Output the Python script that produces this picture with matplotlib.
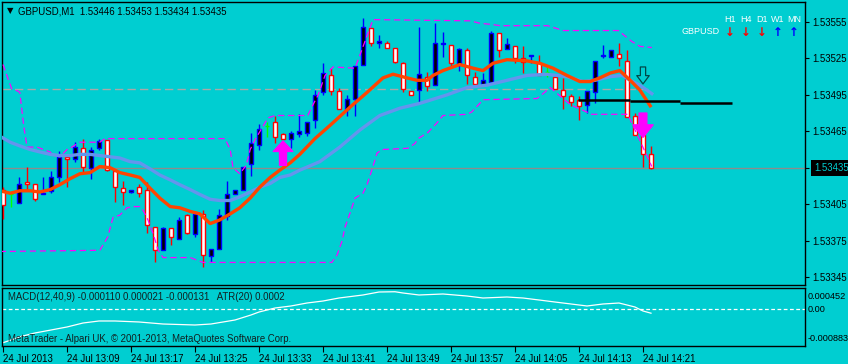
import matplotlib
matplotlib.use('Agg')
import matplotlib.pyplot as plt
import numpy as np
from matplotlib.transforms import blended_transform_factory

plt.rcParams['font.family'] = ['Liberation Sans', 'DejaVu Sans']

BG = '#00CED1'

# GBPUSD M1 candles, 24 Jul 2013 13:01 .. 14:22 (bar index 0..81)
opens = [1.53417, 1.53413, 1.53406, 1.53423, 1.53422, 1.53413, 1.53416, 1.53427, 1.53444, 1.53442,
         1.53451, 1.53435, 1.53451, 1.53458, 1.53432, 1.53418, 1.53415, 1.53419, 1.53417, 1.53386,
         1.53367, 1.53385, 1.53376, 1.53396, 1.53380, 1.53397, 1.53362, 1.53368, 1.53395, 1.53413,
         1.53417, 1.53438, 1.53454, 1.53469, 1.53473, 1.53463, 1.53459, 1.53463, 1.53464, 1.53474,
         1.53497, 1.53511, 1.53498, 1.53483, 1.53492, 1.53520, 1.53550, 1.53538, 1.53538, 1.53534,
         1.53521, 1.53498, 1.53499, 1.53510, 1.53503, 1.53537, 1.53536, 1.53520, 1.53532, 1.53510,
         1.53504, 1.53506, 1.53546, 1.53533, 1.53535, 1.53525, 1.53527, 1.53521, 1.53514, 1.53510,
         1.53499, 1.53494, 1.53491, 1.53487, 1.53497, 1.53527, 1.53526, 1.53529, 1.53523, 1.53478,
         1.53462, 1.53446]
highs = [1.53419, 1.53414, 1.53427, 1.53436, 1.53422, 1.53427, 1.53432, 1.53449, 1.53444, 1.53456,
         1.53459, 1.53452, 1.53459, 1.53458, 1.53432, 1.53424, 1.53417, 1.53422, 1.53423, 1.53386,
         1.53386, 1.53385, 1.53394, 1.53397, 1.53397, 1.53400, 1.53368, 1.53401, 1.53424, 1.53417,
         1.53436, 1.53464, 1.53471, 1.53473, 1.53478, 1.53464, 1.53465, 1.53479, 1.53473, 1.53499,
         1.53521, 1.53517, 1.53501, 1.53495, 1.53519, 1.53558, 1.53550, 1.53544, 1.53539, 1.53534,
         1.53522, 1.53498, 1.53551, 1.53514, 1.53554, 1.53547, 1.53536, 1.53534, 1.53534, 1.53514,
         1.53513, 1.53548, 1.53546, 1.53542, 1.53535, 1.53535, 1.53528, 1.53528, 1.53518, 1.53512,
         1.53509, 1.53496, 1.53494, 1.53498, 1.53523, 1.53536, 1.53532, 1.53538, 1.53532, 1.53480,
         1.53462, 1.53453]
lows = [1.53393, 1.53403, 1.53406, 1.53417, 1.53408, 1.53413, 1.53414, 1.53423, 1.53419, 1.53440,
        1.53431, 1.53426, 1.53450, 1.53432, 1.53407, 1.53404, 1.53414, 1.53411, 1.53381, 1.53357,
        1.53367, 1.53371, 1.53376, 1.53380, 1.53378, 1.53353, 1.53357, 1.53368, 1.53392, 1.53413,
        1.53417, 1.53428, 1.53450, 1.53460, 1.53455, 1.53459, 1.53451, 1.53460, 1.53461, 1.53468,
        1.53495, 1.53495, 1.53483, 1.53478, 1.53478, 1.53520, 1.53535, 1.53534, 1.53534, 1.53521,
        1.53497, 1.53495, 1.53488, 1.53498, 1.53503, 1.53526, 1.53519, 1.53515, 1.53504, 1.53504,
        1.53504, 1.53506, 1.53526, 1.53533, 1.53521, 1.53513, 1.53521, 1.53511, 1.53510, 1.53500,
        1.53483, 1.53486, 1.53474, 1.53480, 1.53488, 1.53525, 1.53526, 1.53519, 1.53477, 1.53462,
        1.53436, 1.53434]
closes = [1.53404, 1.53413, 1.53422, 1.53422, 1.53409, 1.53414, 1.53427, 1.53444, 1.53442, 1.53452,
          1.53436, 1.53450, 1.53457, 1.53433, 1.53419, 1.53415, 1.53417, 1.53414, 1.53388, 1.53367,
          1.53385, 1.53378, 1.53392, 1.53381, 1.53397, 1.53363, 1.53368, 1.53396, 1.53413, 1.53417,
          1.53436, 1.53455, 1.53467, 1.53469, 1.53460, 1.53459, 1.53464, 1.53465, 1.53473, 1.53495,
          1.53513, 1.53498, 1.53483, 1.53492, 1.53519, 1.53551, 1.53538, 1.53539, 1.53534, 1.53522,
          1.53500, 1.53495, 1.53512, 1.53502, 1.53538, 1.53538, 1.53521, 1.53533, 1.53511, 1.53504,
          1.53507, 1.53546, 1.53532, 1.53537, 1.53525, 1.53522, 1.53528, 1.53511, 1.53514, 1.53500,
          1.53494, 1.53489, 1.53486, 1.53498, 1.53523, 1.53528, 1.53532, 1.53525, 1.53477, 1.53462,
          1.53446, 1.53435]

# fast MA (orange): bar position, price
fast_x = [-0.4, 0.9, 2.1, 3.4, 4.6, 5.9, 7.1, 8.4, 9.6, 10.9, 12.1, 13.4, 14.6, 15.9, 17.1, 18.4,
          19.6, 20.9, 22.1, 23.4, 24.6, 25.9, 27.1, 28.4, 29.6, 30.9, 32.1, 33.4, 34.6, 35.9, 37.1,
          39.0, 40.9, 43.4, 45.5, 47.5, 48.75, 50.5, 51.75, 53.0, 53.75, 55.0, 57.1, 58.75, 60.0,
          61.25, 63.0, 65.5, 67.1, 68.75, 70.5, 72.1, 73.4, 74.6, 75.9, 77.1, 78.4, 79.6, 80.9]
fast_y = [1.53416, 1.53414, 1.53416, 1.53416, 1.53415, 1.53417, 1.53421, 1.53426, 1.53430, 1.53431,
          1.53436, 1.53435, 1.53431, 1.53429, 1.53427, 1.53418, 1.53410, 1.53403, 1.53402, 1.53399,
          1.53397, 1.53389, 1.53392, 1.53397, 1.53402, 1.53410, 1.53419, 1.53427, 1.53433, 1.53439,
          1.53446, 1.53459, 1.53470, 1.53485, 1.53497, 1.53509, 1.53512, 1.53509, 1.53507, 1.53507,
          1.53511, 1.53515, 1.53520, 1.53517, 1.53515, 1.53521, 1.53524, 1.53523, 1.53521, 1.53517,
          1.53511, 1.53506, 1.53506, 1.53509, 1.53513, 1.53515, 1.53507, 1.53499, 1.53486]

# slow MA (light blue)
slow_x = [-0.4, 0.9, 2.1, 3.4, 4.6, 5.9, 7.1, 8.4, 9.6, 10.9, 12.1, 13.4, 14.6, 15.9, 17.1, 18.4,
          19.6, 20.9, 22.1, 23.4, 24.6, 25.9, 27.1, 28.4, 29.6, 30.9, 32.1, 33.4, 34.6, 35.9, 37.1,
          39.6, 42.1, 44.6, 47.1, 49.6, 52.1, 55.5, 58.0, 60.5, 63.0, 65.5, 68.0, 70.5, 72.5, 74.0,
          75.9, 77.4, 78.4, 79.6, 81.1]
slow_y = [1.53461, 1.53456, 1.53453, 1.53450, 1.53448, 1.53446, 1.53445, 1.53445, 1.53446, 1.53446,
          1.53445, 1.53444, 1.53443, 1.53440, 1.53439, 1.53434, 1.53429, 1.53425, 1.53421, 1.53417,
          1.53413, 1.53409, 1.53408, 1.53408, 1.53411, 1.53415, 1.53419, 1.53422, 1.53427, 1.53429,
          1.53433, 1.53440, 1.53452, 1.53466, 1.53478, 1.53484, 1.53488, 1.53495, 1.53501, 1.53503,
          1.53507, 1.53511, 1.53512, 1.53510, 1.53506, 1.53507, 1.53510, 1.53511, 1.53507, 1.53503,
          1.53496]

# channel lines (magenta, dashed)
upper_x = [0.0, 0.75, 1.1, 1.9, 2.1, 2.6, 3.0, 4.25, 5.9, 6.25, 7.1, 8.0, 8.6, 9.6, 12.1, 12.75,
           27.75, 28.4, 28.75, 29.6, 30.4, 30.9, 31.5, 32.4, 33.1, 34.0, 38.1, 38.6, 39.4, 40.25,
           41.25, 44.0, 44.4, 46.25, 58.4, 59.6, 61.1, 62.1, 68.1, 70.0, 76.9, 77.1, 78.6, 79.6, 81.1]
upper_y = [1.53520, 1.53506, 1.53500, 1.53498, 1.53497, 1.53469, 1.53452, 1.53452, 1.53448, 1.53445,
           1.53444, 1.53450, 1.53452, 1.53456, 1.53456, 1.53459, 1.53459, 1.53450, 1.53435, 1.53430,
           1.53437, 1.53450, 1.53458, 1.53468, 1.53476, 1.53478, 1.53478, 1.53485, 1.53495, 1.53511,
           1.53518, 1.53517, 1.53524, 1.53557, 1.53556, 1.53554, 1.53553, 1.53552, 1.53552, 1.53548,
           1.53548, 1.53547, 1.53539, 1.53535, 1.53534]
lower_x = [-0.4, 12.1, 13.1, 13.75, 14.6, 15.5, 16.25, 17.1, 17.5, 18.0, 18.75, 19.4, 20.0, 23.4,
           25.0, 41.1, 41.75, 42.4, 42.75, 43.4, 44.0, 45.0, 45.5, 46.1, 46.75, 47.4, 50.6, 51.5,
           51.9, 53.1, 54.25, 55.0, 58.0, 58.6, 59.6, 60.0, 66.75, 67.5, 68.4, 70.9, 73.6, 78.1, 81.1]
lower_y = [1.53366, 1.53367, 1.53378, 1.53394, 1.53396, 1.53402, 1.53403, 1.53403, 1.53400, 1.53394,
           1.53381, 1.53367, 1.53361, 1.53361, 1.53357, 1.53357, 1.53363, 1.53375, 1.53386, 1.53398,
           1.53410, 1.53414, 1.53421, 1.53433, 1.53447, 1.53450, 1.53451, 1.53455, 1.53459, 1.53464,
           1.53472, 1.53478, 1.53479, 1.53481, 1.53488, 1.53491, 1.53492, 1.53496, 1.53501, 1.53487,
           1.53479, 1.53479, 1.53436]

# black level line (drawn object)
level_x = [71.9, 78.4, 84.6, 91.1]
level_y = [1.53491, 1.53490, 1.53488]

round_level = 1.53500
bid = 1.53435

# MACD main line
macd_x = [0, 1, 2, 4, 6, 8, 10, 12, 14, 17, 20, 24, 26, 29, 31, 32, 34, 36, 38, 40, 42, 45, 47,
          49, 50, 52, 55, 58, 60, 63, 65, 67, 69, 71, 73, 75, 77, 78, 79, 80, 81]
macd_y = [-0.000883, -0.000812, -0.000733, -0.000628, -0.000550, -0.000471, -0.000367, -0.000314,
          -0.000314, -0.000340, -0.000393, -0.000419, -0.000393, -0.000288, -0.000157, -0.000079,
          0.000026, 0.000079, 0.000157, 0.000209, 0.000288, 0.000367, 0.000445, 0.000452, 0.000419,
          0.000367, 0.000393, 0.000340, 0.000288, 0.000314, 0.000288, 0.000236, 0.000183, 0.000131,
          0.000079, 0.000131, 0.000157, 0.000105, 0.000052, -0.000052, -0.000110]

price_ticks = [1.53345, 1.53375, 1.53405, 1.53435, 1.53465, 1.53495, 1.53525, 1.53555]
time_ticks = [0, 8, 16, 24, 32, 40, 48, 56, 64, 72, 80]
time_labels = ['24 Jul 2013', '24 Jul 13:09', '24 Jul 13:17', '24 Jul 13:25', '24 Jul 13:33',
               '24 Jul 13:41', '24 Jul 13:49', '24 Jul 13:57', '24 Jul 14:05', '24 Jul 14:13',
               '24 Jul 14:21']
periods = ['H1', 'H4', 'D1', 'W1', 'MN']
period_up = [False, False, False, True, True]

W, H = 848, 364


def box(x0, y0, x1, y1):
    return [x0 / W, 1 - y1 / H, (x1 - x0) / W, (y1 - y0) / H]


fig = plt.figure(figsize=(W / 100, H / 100), dpi=100, facecolor=BG)
ax = fig.add_axes(box(2, 2, 805, 285), facecolor=BG)
mx = fig.add_axes(box(2, 288, 805, 346), facecolor=BG, sharex=ax)

o = np.array(opens)
c = np.array(closes)
idx = np.arange(len(o))
bull = c > o
doji = c == o
body_fc = np.where(bull, 'black', 'white')
edge = np.where(bull, '#0000FF', '#FF0000')
edge = np.where(doji, '#00FF00', edge)

ax.vlines(idx, lows, highs, colors=edge, lw=1, zorder=3)
ax.bar(idx, np.maximum(np.abs(c - o), 1e-7), bottom=np.minimum(o, c), width=0.62,
       color=body_fc, edgecolor=edge, linewidth=1, zorder=4)

ax.hlines(round_level, -0.125, 81.1, colors='#A8A8A8', lw=1, linestyles=(0, (6, 3)), zorder=2)
ax.axhline(bid, color='#8C8C8C', lw=1, zorder=2)
ax.plot(upper_x, upper_y, color='#FF00FF', lw=0.9, ls=(0, (5, 3)), zorder=5)
ax.plot(lower_x, lower_y, color='#FF00FF', lw=0.9, ls=(0, (5, 3)), zorder=5)
ax.plot(slow_x, slow_y, color='#6495ED', lw=2.4, zorder=6)
ax.plot(fast_x, fast_y, color='#FF4500', lw=2.4, zorder=7)
ax.hlines(level_y, level_x[:-1], level_x[1:], colors='black', lw=1.8, zorder=7)

# signal arrows
ax.annotate('', xy=(35, 1.53457), xytext=(35, 1.53437),
            arrowprops=dict(arrowstyle='simple,head_width=1.4,head_length=0.75,tail_width=0.5',
                            color='#FF00FF', shrinkA=0, shrinkB=0, mutation_scale=10), zorder=8)
ax.annotate('', xy=(80, 1.53460), xytext=(80, 1.53480),
            arrowprops=dict(arrowstyle='simple,head_width=1.45,head_length=0.9,tail_width=0.55',
                            color='#FF00FF', shrinkA=0, shrinkB=0, mutation_scale=10), zorder=8)
ax.annotate('', xy=(80, 1.53504), xytext=(80, 1.53518),
            arrowprops=dict(arrowstyle='simple,head_width=0.9,head_length=0.6,tail_width=0.38',
                            fc=BG, ec='#004848', lw=0.9, shrinkA=0, shrinkB=0,
                            mutation_scale=10), zorder=8)

ax.set_xlim(-0.125, 100.25)
ax.set_ylim(1.533384, 1.535715)
ax.yaxis.tick_right()
ax.set_yticks(price_ticks)
# the bid level gets its own boxed label below
ax.set_yticklabels(['' if p == bid else '%.5f' % p for p in price_ticks])
ax.tick_params(axis='y', length=3, width=0.8, pad=2, labelsize=6.9, colors='black')
ax.tick_params(axis='x', bottom=False, labelbottom=False)
for a in (ax, mx):
    for s in a.spines.values():
        s.set_color('black')
        s.set_linewidth(1)

tr = blended_transform_factory(ax.transAxes, ax.transData)
ax.text(1.0 + 9 / 803, bid, '%.5f' % bid, transform=tr, va='center', ha='left', color=BG,
        fontsize=6.9, zorder=10, clip_on=False,
        bbox=dict(boxstyle='square,pad=0.3', fc='black', ec='none'))

# MACD window
mx.plot(macd_x, macd_y, color='white', lw=0.9)
mx.axhline(0, color='white', lw=0.9, ls=(0, (3, 2)))
mx.set_ylim(-0.000969, 0.00055)
mx.set_yticks([])
mx.set_xticks(time_ticks)
mx.set_xticklabels(time_labels)
mx.tick_params(axis='x', length=4, width=0.8, pad=1.5, labelsize=6.9, colors='black')
plt.setp(mx.get_xticklabels(), ha='left')
mtr = blended_transform_factory(mx.transAxes, mx.transData)
for v, lab, va in [(0.000452, '0.000452', 'top'), (0.0, '0.00', 'center'),
                   (-0.000883, '-0.000883', 'bottom')]:
    mx.text(1.0 + 3 / 803, v, lab, transform=mtr, va=va, ha='left', fontsize=6.6,
            color='black', clip_on=False)
mx.text(6 / 803, 0.845, 'MACD(12,40,9) -0.000110 0.000021 -0.000131   ATR(20) 0.0002',
        transform=mx.transAxes, va='center', ha='left', fontsize=6.9, color='#102020')
mx.text(6 / 803, 0.12, 'MetaTrader - Alpari UK, \u00a9 2001-2013, MetaQuotes Software Corp.',
        transform=mx.transAxes, va='center', ha='left', fontsize=6.9, color='#102020')

# header and trend panel
fig.text(7 / W, 1 - 11 / H, '\u25bc', fontsize=6, va='center', ha='left', color='black',
         family=['DejaVu Sans'])
fig.text(18 / W, 1 - 11 / H, 'GBPUSD,M1  1.53446 1.53453 1.53434 1.53435', fontsize=6.9,
         va='center', ha='left', color='black')
fig.text(720 / W, 1 - 32 / H, 'GBPUSD', fontsize=6.5, va='center', ha='right', color='white')
for k, (p, up) in enumerate(zip(periods, period_up)):
    px = 730 + 16 * k
    fig.text(px / W, 1 - 20 / H, p, fontsize=6.5, va='center', ha='center', color='white')
    fig.text(px / W, 1 - 32 / H, '\u2191' if up else '\u2193', fontsize=8.5, fontweight='bold',
             va='center', ha='center', color='#0000FF' if up else '#FF0000',
             family=['DejaVu Sans'])

fig.savefig('out.png', dpi=100, facecolor=BG)
